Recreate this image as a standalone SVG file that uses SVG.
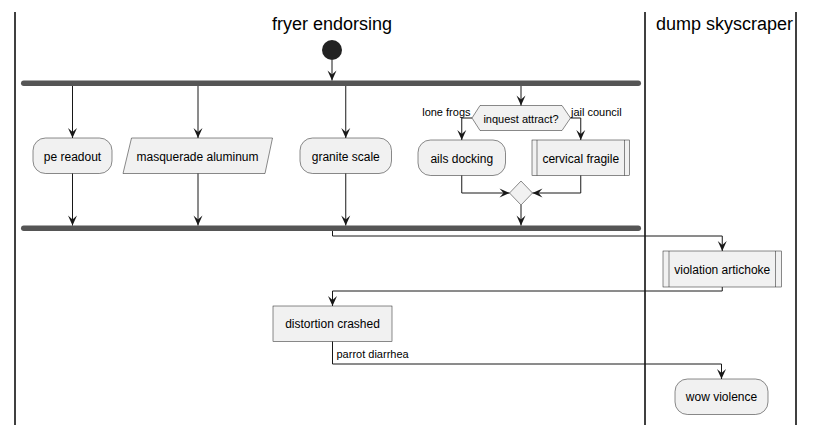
<svg xmlns="http://www.w3.org/2000/svg" width="815" height="425" viewBox="0 0 815 425">
<style>
.lane{stroke:#000;stroke-width:1.5;fill:none}
.title{font-family:"Liberation Sans",Arial,sans-serif;font-size:18px;fill:#000;text-anchor:middle}
.node{fill:#F1F1F1;stroke:#181818;stroke-width:0.5}
.txt{font-family:"Liberation Sans",Arial,sans-serif;font-size:12px;fill:#000;text-anchor:middle}
.small{font-family:"Liberation Sans",Arial,sans-serif;font-size:11px;fill:#000}
.bar{fill:#555555;stroke:none}
.conn{fill:none;stroke:#181818;stroke-width:1;marker-end:url(#arr)}
</style>
<defs>
<marker id="arr" markerUnits="userSpaceOnUse" viewBox="-11 -6 12 12" refX="0" refY="0" markerWidth="12" markerHeight="12" orient="auto">
<path d="M0,0 L-10,-4.5 L-6,0 L-10,4.5 Z" fill="#181818"/>
</marker>
</defs>
<g id="lanes">
<line class="lane" x1="15" y1="12" x2="15" y2="425"/>
<line class="lane" x1="645" y1="12" x2="645" y2="425"/>
<line class="lane" x1="796" y1="12" x2="796" y2="425"/>
<text class="title" x="332" y="30">fryer endorsing</text>
<text class="title" x="724.5" y="30">dump skyscraper</text>
</g>
<g id="start"><circle cx="332" cy="50" r="10" fill="#222222"/></g>
<g id="fork"><rect class="bar" x="21" y="80.5" width="620" height="5.5" rx="2.75"/></g>
<g id="join"><rect class="bar" x="21" y="225.5" width="620" height="5.5" rx="2.75"/></g>
<g id="pe_readout">
<rect class="node" x="33" y="138" width="79" height="35.5" rx="12.5"/>
<text class="txt" x="72.5" y="160.5">pe readout</text>
</g>
<g id="masquerade_aluminum">
<polygon class="node" points="131.5,138 272.5,138 265,173.5 123,173.5"/>
<text class="txt" x="197.5" y="160.5">masquerade aluminum</text>
</g>
<g id="granite_scale">
<rect class="node" x="300" y="138" width="91.5" height="35.5" rx="12.5"/>
<text class="txt" x="345.75" y="160.5">granite scale</text>
</g>
<g id="inquest_attract">
<polygon class="node" points="472,118 480,105.5 562,105.5 570.5,118 562,130.5 480,130.5"/>
<text class="small" x="521" y="122.5" text-anchor="middle">inquest attract?</text>
</g>
<g id="ails_docking">
<rect class="node" x="418" y="140" width="87.5" height="35.5" rx="12.5"/>
<text class="txt" x="461.75" y="162.5">ails docking</text>
</g>
<g id="cervical_fragile">
<rect class="node" x="532" y="140" width="97.5" height="35.5"/>
<line class="node" x1="537" y1="140" x2="537" y2="175.5"/>
<line class="node" x1="624.5" y1="140" x2="624.5" y2="175.5"/>
<text class="txt" x="580.75" y="162.5">cervical fragile</text>
</g>
<g id="merge">
<polygon class="node" points="521,181 532.5,193 521,205 509.5,193"/>
</g>
<g id="violation_artichoke">
<rect class="node" x="663" y="251" width="118.5" height="36"/>
<line class="node" x1="669" y1="251" x2="669" y2="287"/>
<line class="node" x1="775.5" y1="251" x2="775.5" y2="287"/>
<text class="txt" x="722.25" y="273.5">violation artichoke</text>
</g>
<g id="distortion_crashed">
<rect class="node" x="273" y="306" width="119" height="35.5"/>
<text class="txt" x="332.5" y="328">distortion crashed</text>
</g>
<g id="wow_violence">
<rect class="node" x="675" y="379" width="93" height="35.5" rx="12.5"/>
<text class="txt" x="721.5" y="401">wow violence</text>
</g>
<g id="connectors">
<path class="conn" d="M332,60 L332,80.5"/>
<path class="conn" d="M72.5,86 L72.5,138"/>
<path class="conn" d="M198,86 L198,138"/>
<path class="conn" d="M345.75,86 L345.75,138"/>
<path class="conn" d="M521,86 L521,105.5"/>
<path class="conn" d="M72.5,173.5 L72.5,225.5"/>
<path class="conn" d="M198,173.5 L198,225.5"/>
<path class="conn" d="M345.75,173.5 L345.75,225.5"/>
<path class="conn" d="M472,118 L461.75,118 L461.75,140"/>
<path class="conn" d="M570.5,118 L580.75,118 L580.75,140"/>
<path class="conn" d="M461.75,175.5 L461.75,193 L509.5,193"/>
<path class="conn" d="M580.75,175.5 L580.75,193 L532.5,193"/>
<path class="conn" d="M521,205 L521,225.5"/>
<path class="conn" d="M332.5,231 L332.5,236 L722.25,236 L722.25,251"/>
<path class="conn" d="M722.25,287 L722.25,291 L332.5,291 L332.5,306"/>
<path class="conn" d="M332.5,341.5 L332.5,364 L721.5,364 L721.5,379"/>
<text class="small" x="470.5" y="115.5" text-anchor="end">lone frogs</text>
<text class="small" x="571" y="115.5">jail council</text>
<text class="small" x="336.5" y="358">parrot diarrhea</text>
</g>
</svg>
